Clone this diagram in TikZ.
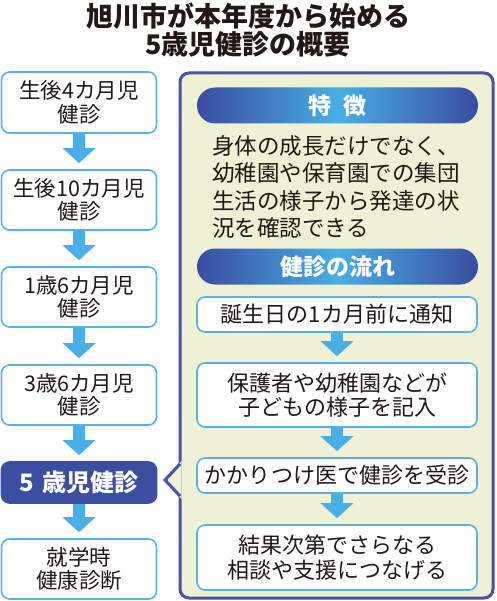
\documentclass[tikz,border=0pt]{standalone}
\usepackage{fontspec}
\setmainfont{Noto Sans CJK JP}
\usetikzlibrary{arrows.meta}
\definecolor{ink}{HTML}{231815}
\definecolor{lblue}{HTML}{55B2E4}
\definecolor{arrowblue}{HTML}{4AAEE8}
\definecolor{dblue}{HTML}{3C4E9F}
\definecolor{panelborder}{HTML}{4753A3}
\definecolor{panelfill}{HTML}{EEF1D3}
\definecolor{pillmid}{HTML}{48AEE4}
\definecolor{pillend}{HTML}{3A4DA0}
\begin{document}
\begin{tikzpicture}[x=1pt,y=-1pt,
  stepbox/.style={draw=lblue, line width=1.6pt, fill=white, rounded corners=8pt,
    minimum width=155pt, text=ink, align=center, inner sep=0pt,
    font=\fontsize{21.5}{23.5}\selectfont},
  flowbox/.style={draw=lblue, line width=1.6pt, fill=white, rounded corners=8pt,
    minimum width=280pt, text=ink, align=center, inner sep=0pt,
    font=\fontsize{22}{24.5}\selectfont},
  keybox/.style={draw=dblue, line width=1.6pt, fill=dblue, rounded corners=8pt,
    minimum width=155pt, text=white, align=center, inner sep=0pt,
    font=\fontsize{24}{26}\selectfont\bfseries},
  pill/.style={minimum width=281pt, minimum height=36pt, rounded corners=18pt,
    left color=pillend, right color=pillend, middle color=pillmid,
    text=white, inner sep=0pt, font=\fontsize{23}{25}\selectfont\bfseries},
  bigarrow/.style={draw=arrowblue, line width=12pt,
    -{Triangle[width=32pt,length=15pt]}, shorten >=6pt},
]
\useasboundingbox (0,0) rectangle (496,601);

% title
\node[text=ink, align=center, font=\fontsize{27}{27.5}\selectfont\bfseries] (title) at (248,30)
  {旭川市が本年度から始める\\5歳児健診の概要};

% right panel
\draw[draw=panelborder, fill=panelfill, line width=3pt, rounded corners=9pt]
  (180,73) rectangle (493,598);
\fill[panelfill] (181.6,461) -- (164,480) -- (181.6,499) -- cycle;
\draw[panelborder, line width=3pt, line join=miter]
  (180,464) -- (165,480) -- (180,496);

% left column
\node[stepbox, minimum height=61pt] (b1) at (79,102.5) {生後4カ月児\\健診};
\node[stepbox, minimum height=60pt] (b2) at (79,200) {生後10カ月児\\健診};
\node[stepbox, minimum height=60pt] (b3) at (79,297) {1歳6カ月児\\健診};
\node[stepbox, minimum height=60pt] (b4) at (79,395) {3歳6カ月児\\健診};
\node[keybox, minimum height=41pt] (b5) at (79,482.5) {5\hspace{0.35em}歳児健診};
\node[stepbox, minimum height=60pt] (b6) at (79,569) {就学時\\健康診断};

\draw[bigarrow] (b1.south) -- (b2.north);
\draw[bigarrow] (b2.south) -- (b3.north);
\draw[bigarrow] (b3.south) -- (b4.north);
\draw[bigarrow] (b4.south) -- (b5.north);
\draw[bigarrow] (b5.south) -- (b6.north);

% features
\node[pill] (p1) at (337.5,105.5) {特\hspace{0.5em}徴};
\node[anchor=west, text=ink, align=left, inner sep=0pt,
  font=\fontsize{22.5}{27.3}\selectfont] (feat) at (212,187)
  {身体の成長だけでなく、\\幼稚園や保育園での集団\\生活の様子から発達の状\\況を確認できる};

% flow
\node[pill] (p2) at (337.5,266.5) {健診の流れ};
\node[flowbox, minimum height=35pt] (f1) at (337,314.5) {誕生日の1カ月前に通知};
\node[flowbox, minimum height=64pt] (f2) at (337,395) {保護者や幼稚園などが\\子どもの様子を記入};
\node[flowbox, minimum height=35pt] (f3) at (337,475.5) {かかりつけ医で健診を受診};
\node[flowbox, minimum height=65pt] (f4) at (337,557.5) {結果次第でさらなる\\相談や支援につなげる};

\draw[bigarrow] (f1.south) -- (f2.north);
\draw[bigarrow] (f2.south) -- (f3.north);
\draw[bigarrow] (f3.south) -- (f4.north);
\end{tikzpicture}
\end{document}
